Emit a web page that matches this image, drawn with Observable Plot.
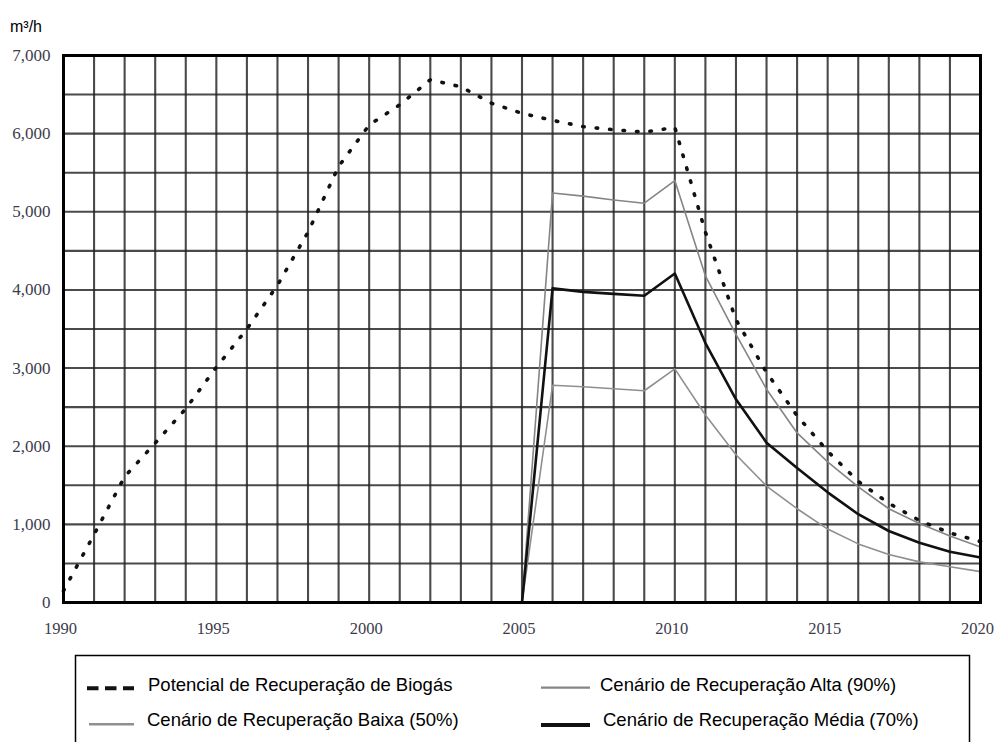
<!DOCTYPE html>
<html>
<head>
<meta charset="utf-8">
<script src="https://cdn.jsdelivr.net/npm/d3@7"></script>
<script src="https://cdn.jsdelivr.net/npm/@observablehq/plot@0.6"></script>
<style>
  html, body { margin: 0; padding: 0; background: #fff; }
  body { width: 994px; height: 742px; overflow: hidden; position: relative; }
  #chart { position: absolute; left: 0; top: 0; }
  #unit { position: absolute; left: 10px; top: 18px; font: 16px "Liberation Sans", Arial, sans-serif; color: #000; }
  #legend { position: absolute; left: 0; top: 650px; }
</style>
</head>
<body>
<div id="chart"></div>
<div id="unit">m³/h</div>
<svg id="legend" width="994" height="92"></svg>
<script>
// ---- data ----
const years = [1990,1991,1992,1993,1994,1995,1996,1997,1998,1999,2000,2001,2002,2003,2004,2005,2006,2007,2008,2009,2010,2011,2012,2013,2014,2015,2016,2017,2018,2019,2020];
const potencial = [150,870,1610,2040,2480,3010,3500,4060,4740,5580,6110,6370,6690,6600,6390,6260,6170,6090,6050,6020,6080,4740,3620,2945,2390,1935,1550,1270,1050,890,780];

const scenarioYears = [2005,2006,2007,2008,2009,2010,2011,2012,2013,2014,2015,2016,2017,2018,2019,2020];
const alta  = [0,5240,5200,5150,5110,5400,4180,3430,2730,2170,1800,1480,1200,1010,850,710];
const media = [0,4020,3975,3950,3925,4210,3320,2600,2045,1720,1410,1130,915,765,650,576];
const baixa = [0,2780,2760,2735,2710,2990,2400,1890,1490,1200,940,750,615,520,457,395];

const xTicks = [1990,1995,2000,2005,2010,2015,2020];
const yTicks = [0,1000,2000,3000,4000,5000,6000,7000];
const xGrid = d3.range(1990, 2021, 1);
const yGrid = d3.range(0, 7001, 500);

const seriesNames = [
  "Potencial de Recuperação de Biogás",
  "Cenário de Recuperação Alta (90%)",
  "Cenário de Recuperação Baixa (50%)",
  "Cenário de Recuperação Média (70%)"
];

// ---- tables ----
const potRows = years.map((x, i) => ({x, y: potencial[i]}));
const rowsOf = arr => scenarioYears.map((x, i) => ({x, y: arr[i]}));

// ---- styles ----
const styles = {
  pot:   {stroke: "#111", strokeWidth: 3.6, strokeDasharray: "1.5,12", strokeLinecap: "round"},
  alta:  {stroke: "#858585", strokeWidth: 1.6},
  baixa: {stroke: "#8f8f8f", strokeWidth: 1.6},
  media: {stroke: "#111", strokeWidth: 2.6}
};

const chart = Plot.plot({
  width: 994,
  height: 650,
  marginLeft: 63,
  marginRight: 14,
  marginTop: 55,
  marginBottom: 48,
  x: {domain: [1990, 2020]},
  y: {domain: [0, 7000]},
  style: {fontFamily: "'Liberation Serif', 'Times New Roman', serif", fontSize: "17px", color: "#3c3c4c", background: "transparent"},
  marks: [
    Plot.gridX(xGrid, {stroke: "#222", strokeOpacity: 0.82, strokeWidth: 2.1}),
    Plot.gridY(yGrid, {stroke: "#222", strokeOpacity: 0.82, strokeWidth: 2.1}),
    Plot.axisX(xTicks, {tickSize: 0, tickPadding: 20, dx: -3, fontSize: 16.5, tickFormat: d => String(d), label: null}),
    Plot.axisY(yTicks, {tickSize: 0, tickPadding: 13, tickFormat: d3.format(","), label: null}),
    Plot.line(rowsOf(baixa), {x: "x", y: "y", ...styles.baixa}),
    Plot.line(rowsOf(alta), {x: "x", y: "y", ...styles.alta}),
    Plot.line(rowsOf(media), {x: "x", y: "y", ...styles.media}),
    Plot.line(potRows, {x: "x", y: "y", ...styles.pot}),
    Plot.frame({stroke: "#000", strokeWidth: 3})
  ]
});
document.getElementById("chart").appendChild(chart);

// ---- legend (local coords: page y - 650) ----
const legend = d3.select("#legend");
legend.append("path")
  .attr("d", "M75.5,100 V5.5 H969.5 V100")
  .attr("fill", "none").attr("stroke", "#000").attr("stroke-width", 1.5);

const legendItems = [
  {name: seriesNames[0], x1: 87,  x2: 134, ly: 38.3, tx: 148, ty: 41, stroke: "#111",    sw: 4,   dash: "11.5,6.5"},
  {name: seriesNames[1], x1: 541, x2: 590, ly: 37.7, tx: 600, ty: 41, stroke: "#858585", sw: 2.2},
  {name: seriesNames[2], x1: 89,  x2: 134, ly: 74.3, tx: 147, ty: 76, stroke: "#8f8f8f", sw: 2.4},
  {name: seriesNames[3], x1: 541, x2: 590, ly: 75,   tx: 603, ty: 76, stroke: "#111",    sw: 3.8}
];
legendItems.forEach(it => {
  legend.append("line")
    .attr("x1", it.x1).attr("x2", it.x2).attr("y1", it.ly).attr("y2", it.ly)
    .attr("stroke", it.stroke).attr("stroke-width", it.sw)
    .attr("stroke-dasharray", it.dash || null);
  legend.append("text")
    .attr("x", it.tx).attr("y", it.ty)
    .attr("font-family", "'Liberation Sans', Arial, sans-serif")
    .attr("font-size", 18.5)
    .attr("fill", "#000")
    .text(it.name);
});
</script>
</body>
</html>
